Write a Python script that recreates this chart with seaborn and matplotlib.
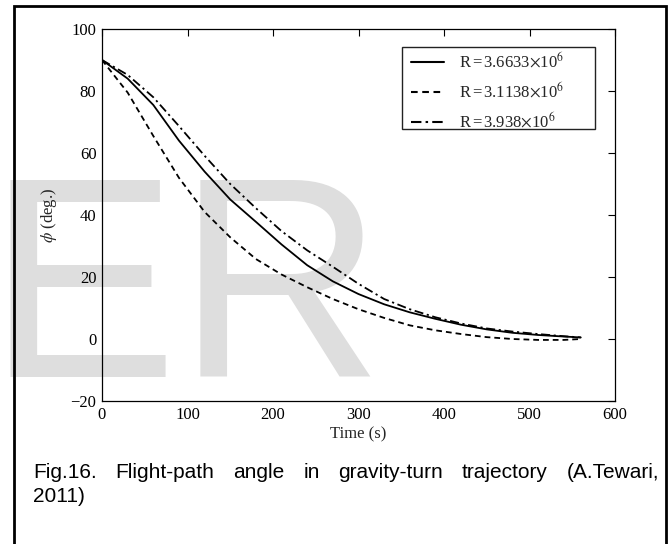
import numpy as np
import pandas as pd
import matplotlib
matplotlib.use("Agg")
import matplotlib.pyplot as plt
import matplotlib.patches as mpatches
import seaborn as sns

# ---- data ----
time_s = [0, 30, 60, 90, 120, 150, 180, 210, 240, 270, 300, 330, 360, 390, 420, 450, 480, 510, 540, 560]
phi_R36633 = [90, 84, 75.5, 64.0, 54.0, 45.0, 37.8, 30.5, 23.8, 18.6, 14.5, 11.2, 8.6, 6.5, 4.6, 3.1, 2.0, 1.3, 0.8, 0.5]
phi_R31138 = [90, 79.5, 65.5, 52.0, 41.0, 32.8, 25.8, 20.8, 16.7, 12.9, 9.6, 6.8, 4.4, 2.8, 1.6, 0.6, 0.0, -0.3, -0.3, 0.0]
phi_R3938 = [90, 85.2, 78.0, 68.7, 59.1, 50.0, 42.2, 34.8, 28.6, 23.3, 17.8, 12.9, 9.6, 7.0, 5.0, 3.4, 2.4, 1.6, 0.9, 0.5]
labels = [r"R$\,$=$\,$3.6633$\times$10$^6$", r"R$\,$=$\,$3.1138$\times$10$^6$", r"R$\,$=$\,$3.938$\times$10$^6$"]
xticks = [0, 100, 200, 300, 400, 500, 600]
yticks = [-20, 0, 20, 40, 60, 80, 100]
caption_line1 = ["Fig.16.", "Flight-path", "angle", "in", "gravity-turn", "trajectory", "(A.Tewari,"]
caption_line2 = "2011)"

sns.set_theme(style="white")
plt.rcParams["font.family"] = ["Liberation Serif", "DejaVu Serif"]
plt.rcParams["mathtext.fontset"] = "stix"

W, H = 668, 544
fig = plt.figure(figsize=(W / 100, H / 100), dpi=100)
fig.patch.set_facecolor("white")

# watermark behind everything
fig.text(-14 / W, 1 - 377 / H, "ER", fontsize=206, family="Liberation Sans",
         color="#dedede", ha="left", va="baseline", zorder=-5)

# outer border
fig.add_artist(mpatches.Rectangle((13.5 / W, -0.05), (665.5 - 13.5) / W, 1.05 - 6 / H,
                                  transform=fig.transFigure, fill=False,
                                  edgecolor="black", lw=2.0, zorder=-4))

ax = fig.add_axes([102 / W, 1 - 401 / H, (615 - 102) / W, (401 - 29) / H])
ax.set_facecolor("none")

df = pd.DataFrame({"t": time_s * 3,
                   "phi": phi_R36633 + phi_R31138 + phi_R3938,
                   "series": [labels[0]] * len(time_s) + [labels[1]] * len(time_s) + [labels[2]] * len(time_s)})

styles = {labels[0]: "", labels[1]: (3.2, 2.2), labels[2]: (5, 2, 1.2, 2)}
sns.lineplot(data=df, x="t", y="phi", style="series", dashes=styles,
             color="black", lw=1.3, ax=ax, legend=True, estimator=None, sort=False)

ax.set_xlim(0, 600)
ax.set_ylim(-20, 100)
ax.set_xticks(xticks)
ax.set_yticks(yticks)
ax.set_xticklabels([str(v) for v in xticks])
ax.set_yticklabels([("\u2212" + str(-v)) if v < 0 else str(v) for v in yticks])
ax.tick_params(direction="in", length=5, width=0.8, top=True, right=True,
               labelsize=12, colors="black", pad=4)
for s in ax.spines.values():
    s.set_color("black")
    s.set_linewidth(0.9)
ax.set_xlabel("Time (s)", fontsize=12, labelpad=3)
ax.set_ylabel(r"$\phi$ (deg.)", fontsize=12, labelpad=8)

# legend: entries without frame, frame drawn as a box like the original
leg = ax.legend(loc="upper left", bbox_to_anchor=(411 / W, 1 - 52 / H),
                bbox_transform=fig.transFigure, borderaxespad=0,
                frameon=False, fontsize=12, handlelength=2.0,
                handletextpad=0.9, labelspacing=0.6, borderpad=0)
for h in leg.get_lines():
    h.set_color("black")
    h.set_linewidth(1.5)
fig.add_artist(mpatches.Rectangle((402 / W, 1 - 129 / H), (595 - 402) / W, (129 - 47) / H,
                                  transform=fig.transFigure, facecolor="white",
                                  edgecolor="#222222", lw=1.0, zorder=-1))

# justified caption
fig.canvas.draw()
renderer = fig.canvas.get_renderer()
x_left, x_right = 33, 659
y1 = 1 - 473 / H
y2 = 1 - 497 / H
cap_kw = dict(fontsize=15, family="Liberation Sans", color="black", va="center", ha="left")
texts = [fig.text(0, y1, w, **cap_kw) for w in caption_line1]
widths = [t.get_window_extent(renderer).width for t in texts]
gap = (x_right - x_left - sum(widths)) / (len(texts) - 1)
x = x_left
for t, w in zip(texts, widths):
    t.set_x(x / W)
    x += w + gap
fig.text(x_left / W, y2, caption_line2, **cap_kw)

fig.savefig("out.png", dpi=100, facecolor="white")
